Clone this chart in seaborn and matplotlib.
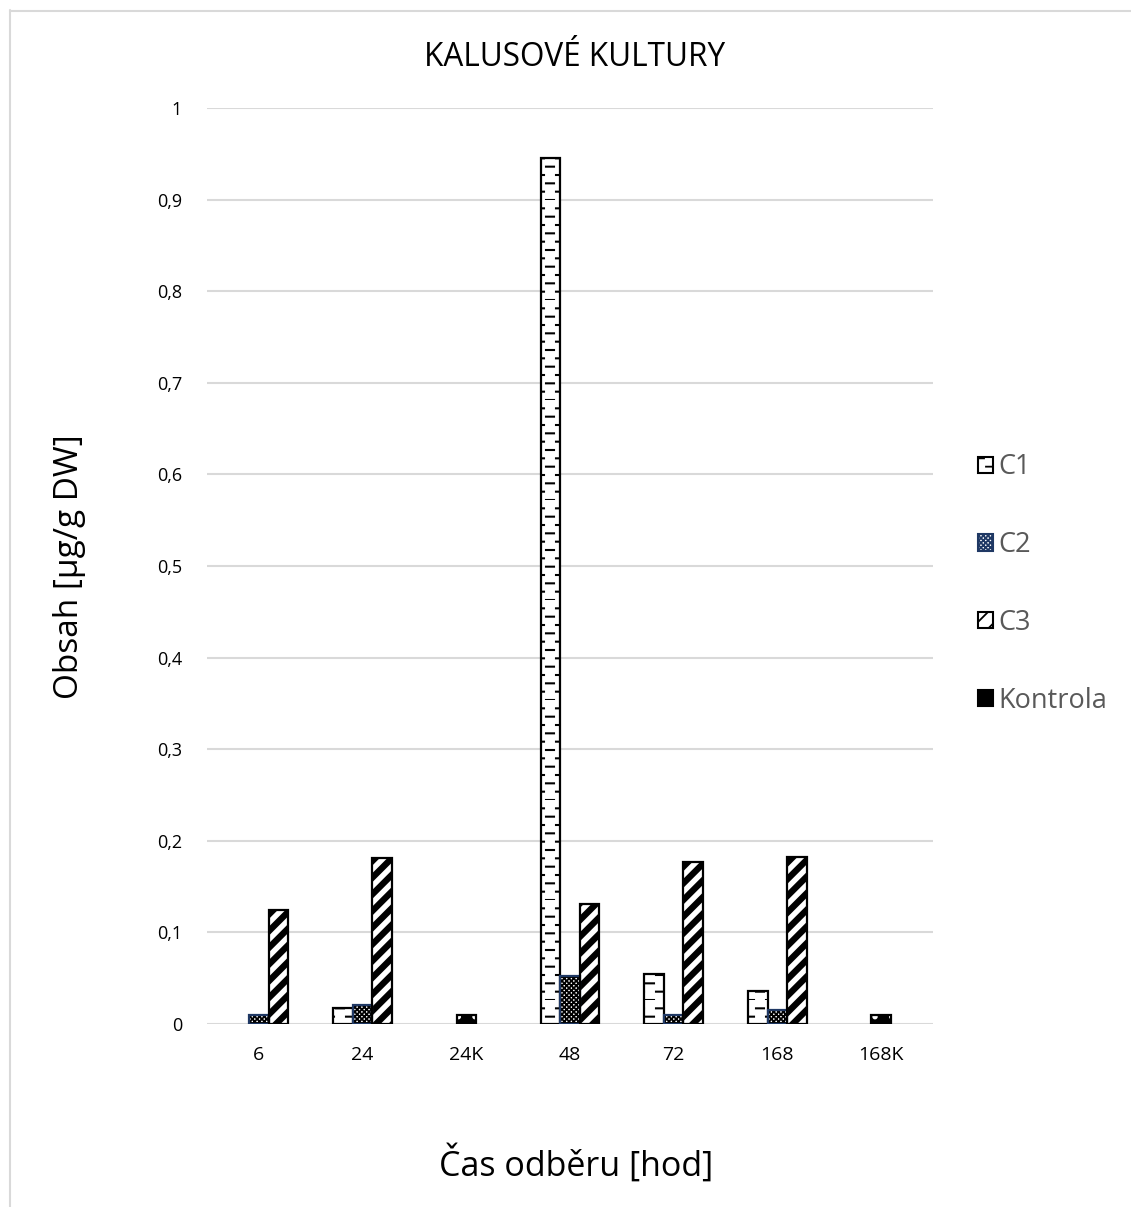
import numpy as np
import pandas as pd
import seaborn as sns
import matplotlib
matplotlib.use("Agg")
import matplotlib.pyplot as plt
from matplotlib import hatch as mhatch
from matplotlib.path import Path
from matplotlib.patches import Rectangle, Patch
from matplotlib.lines import Line2D

# ---- data -------------------------------------------------------------
categories = ["6", "24", "24K", "48", "72", "168", "168K"]
c1 = [np.nan, 0.017, np.nan, 0.945, 0.055, 0.036, np.nan]
c2 = [0.010, 0.021, np.nan, 0.052, 0.010, 0.015, np.nan]
c3 = [0.125, 0.181, np.nan, 0.131, 0.177, 0.182, np.nan]
kontrola = [np.nan, np.nan, 0.010, np.nan, np.nan, np.nan, 0.010]
series_names = ["C1", "C2", "C3"]
yticks = [0, 0.1, 0.2, 0.3, 0.4, 0.5, 0.6, 0.7, 0.8, 0.9, 1.0]
ytick_labels = ["0", "0,1", "0,2", "0,3", "0,4", "0,5", "0,6", "0,7", "0,8", "0,9", "1"]

title = "KALUSOVÉ KULTURY"
xlabel = "Čas odběru [hod]"
ylabel = "Obsah [µg/g DW]"


# ---- dashed horizontal hatch used for the "-" pattern ------------------
class DashedHorizontalHatch(mhatch.HatchPatternBase):
    def __init__(self, hatch, density):
        self.rows = int(hatch.count("-") * density)
        self.cols = int(round(self.rows * 5 / 6))
        self.segments = []
        if self.rows:
            for j in range(self.rows):
                y0 = j / self.rows
                y1 = (j + 0.5) / self.rows
                for i in range(self.cols):
                    self.segments.append(((i + 0.3) / self.cols, (i + 0.7) / self.cols, y0))
                for i in range(self.cols + 1):
                    a = max(0.0, (i - 0.2) / self.cols)
                    b = min(1.0, (i + 0.2) / self.cols)
                    if b > a:
                        self.segments.append((a, b, y1))
        self.num_vertices = 2 * len(self.segments)

    def set_vertices_and_codes(self, vertices, codes):
        for k, (a, b, y) in enumerate(self.segments):
            vertices[2 * k] = (a, y)
            vertices[2 * k + 1] = (b, y)
            codes[2 * k] = Path.MOVETO
            codes[2 * k + 1] = Path.LINETO


mhatch._hatch_types = [DashedHorizontalHatch if t is mhatch.HorizontalHatch else t
                       for t in mhatch._hatch_types]

# ---- styling ----------------------------------------------------------
sns.set_theme(style="white")
plt.rcParams["font.family"] = ["Open Sans", "DejaVu Sans"]
plt.rcParams["hatch.linewidth"] = 1.3

W, H, DPI = 1131, 1207, 100
fig = plt.figure(figsize=(W / DPI, H / DPI), dpi=DPI)
ax = fig.add_axes([207 / W, (H - 1024) / H, (933 - 207) / W, (1024 - 108) / H])

long = pd.DataFrame({
    "cas": categories * 3,
    "serie": sum([[n] * len(categories) for n in series_names], []),
    "obsah": c1 + c2 + c3,
}).dropna()

bar_w = 0.188
sns.barplot(data=long, x="cas", y="obsah", hue="serie", order=categories,
            hue_order=series_names, width=3 * bar_w, dodge=True,
            errorbar=None, legend=False, ax=ax)
sns.barplot(x=pd.Categorical(categories, categories=categories, ordered=True),
            y=kontrola, order=categories, width=bar_w, errorbar=None,
            color="black", ax=ax)

navy = "#1F3864"
styles = [
    dict(face="white", edge="black", hatch="-", hlw=1.5, outline="black"),
    dict(face="white", edge="black", hatch="xxxxxxx", hlw=1.3, outline=navy),
    dict(face="white", edge="black", hatch="//", hlw=4.6, outline="black"),
    dict(face="black", edge="white", hatch=".", hlw=1.5, outline="black"),
]

for cont, st in zip(ax.containers, styles):
    for p in cont.patches:
        if not np.isfinite(p.get_height()) or p.get_height() <= 0:
            continue
        p.set_facecolor(st["face"])
        p.set_edgecolor(st["edge"])
        p.set_hatch(st["hatch"])
        p.set_linewidth(0)
        if hasattr(p, "set_hatch_linewidth"):
            p.set_hatch_linewidth(st["hlw"])
        ax.add_patch(Rectangle(p.get_xy(), p.get_width(), p.get_height(),
                               fill=False, edgecolor=st["outline"],
                               linewidth=1.6, zorder=p.get_zorder() + 0.1))

ax.set_xlim(-0.5, len(categories) - 0.5)
ax.set_ylim(0, 1.0)
ax.set_yticks(yticks, ytick_labels)
ax.yaxis.grid(True, color="#d9d9d9", linewidth=1.5)
ax.set_axisbelow(True)
for s in ax.spines.values():
    s.set_visible(False)
ax.tick_params(axis="both", length=0, colors="black")
ax.tick_params(axis="y", pad=18, labelsize=13)
ax.tick_params(axis="x", pad=16, labelsize=14)
ax.set_xlabel("")
ax.set_ylabel("")

fig.text(575 / W, 1 - 57 / H, title, ha="center", va="center", fontsize=22.7, color="black")
fig.text(576 / W, 1 - 1164 / H, xlabel, ha="center", va="center", fontsize=24.5, color="black")
fig.text(70 / W, 1 - 567 / H, ylabel, ha="center", va="center", fontsize=24,
         rotation=90, color="black")

# legend
handles = []
for name, st in zip(series_names + ["Kontrola"], styles):
    handles.append(Patch(facecolor=st["face"], edgecolor=st["outline"],
                         hatch=st["hatch"], linewidth=1.5, label=name))
leg = fig.legend(handles=handles, loc="center left",
                 bbox_to_anchor=(978 / W, 1 - 584 / H), frameon=False,
                 fontsize=19.5, labelcolor="#595959", handlelength=0.54,
                 handleheight=0.54, handletextpad=0.2, labelspacing=1.84,
                 borderpad=0, borderaxespad=0)

# outer chart border (left and top edges)
fig.add_artist(Line2D([9.5 / W, 9.5 / W], [0, 1 - 10 / H], color="#d9d9d9", linewidth=1.5))
fig.add_artist(Line2D([9.5 / W, 1], [1 - 10.5 / H, 1 - 10.5 / H], color="#d9d9d9", linewidth=1.5))

fig.savefig("out.png", dpi=DPI, facecolor="white")
